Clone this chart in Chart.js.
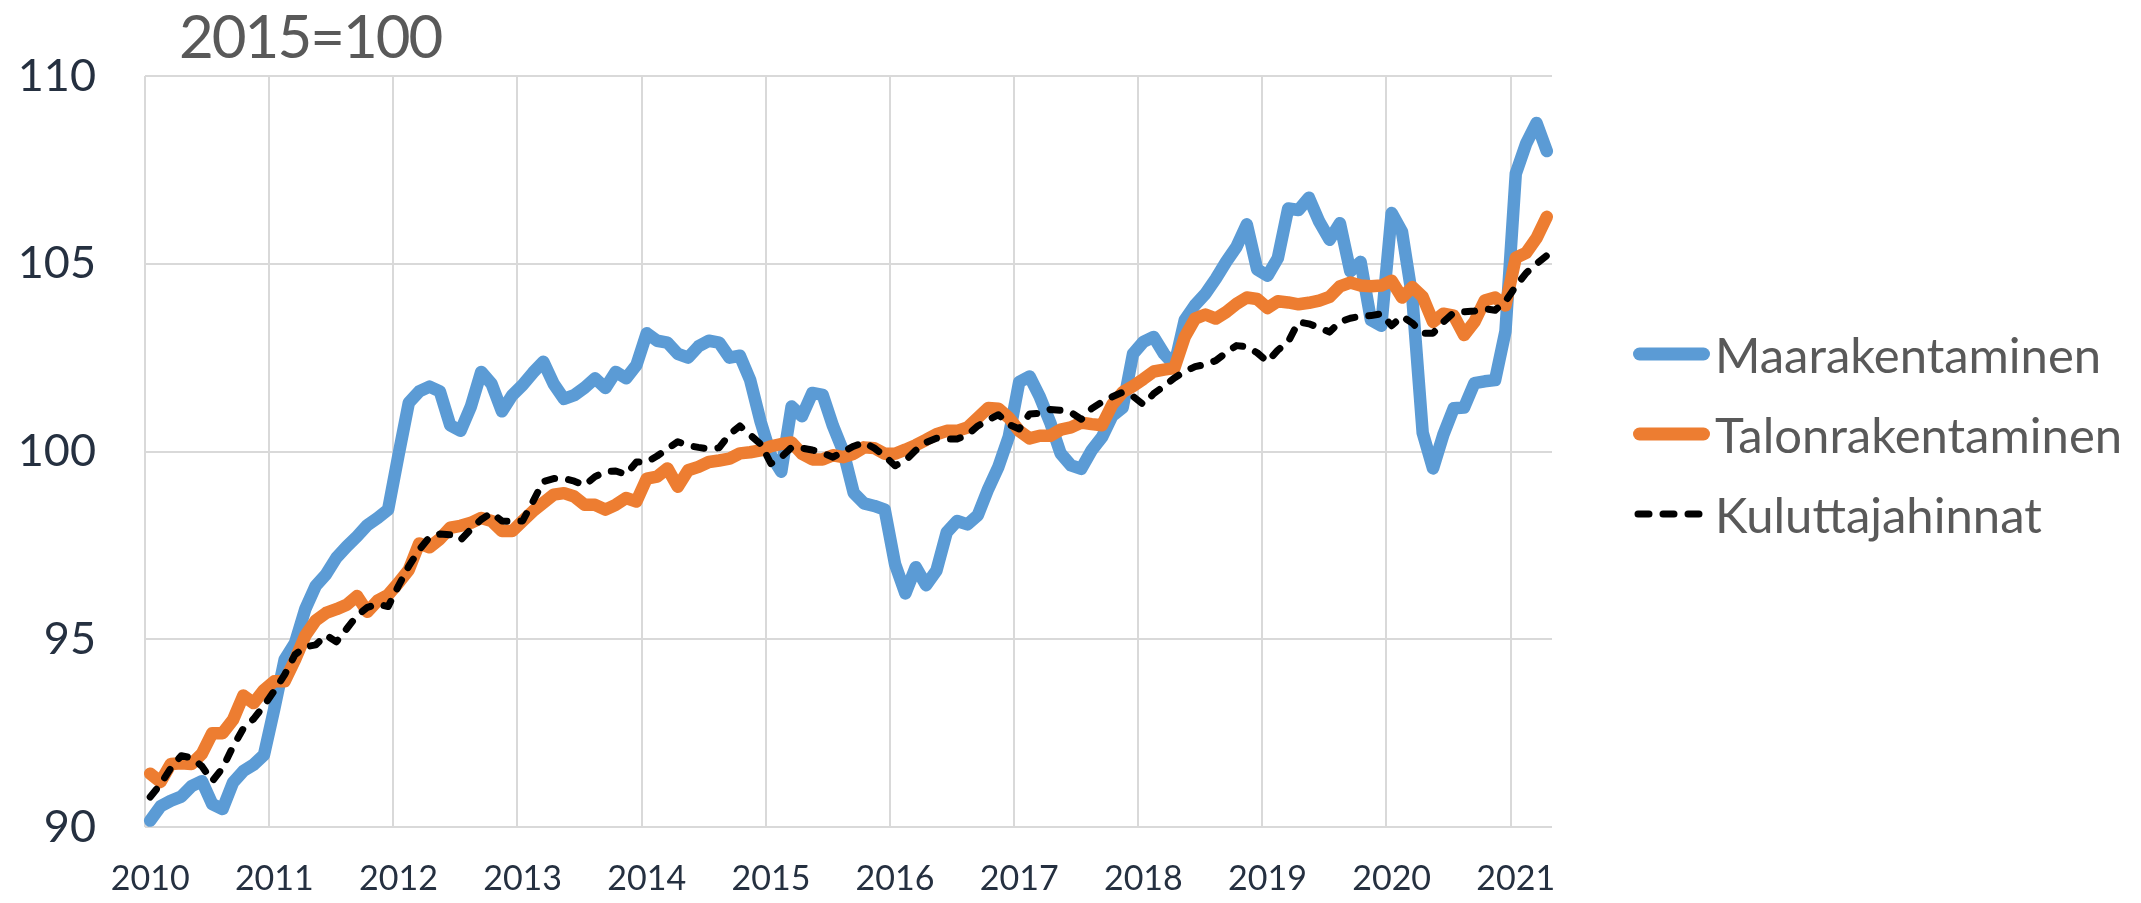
<!DOCTYPE html>
<html>
<head>
<meta charset="utf-8">
<script src="https://cdn.jsdelivr.net/npm/chart.js@4.4.1/dist/chart.umd.min.js"></script>
<style>
    html, body { margin: 0; padding: 0; background: #fff; }
    #wrap { position: relative; width: 2141px; height: 903px; overflow: hidden; }
    #title {
        position: absolute; left: 179px; top: 5px;
        font: 60px Lato, sans-serif; line-height: 60px; letter-spacing: -2px;
        color: #595959; white-space: nowrap;
    }
    .item {
        position: absolute; left: 1633px; height: 50px;
        display: flex; align-items: center; white-space: nowrap;
        font: 49px Lato, sans-serif; line-height: 50px; color: #595959;
    }
    .item svg { margin-right: 5px; flex: none; }
</style>
</head>
<body>
<div id="wrap">
    <canvas id="indeksiChart" width="2141" height="903"></canvas>
    <div id="title">2015=100</div>
    <div id="legend"></div>
</div>
<script>
// Vuodet (x-akselin nimiöt), viimeiseltä vuodelta vain tammi-huhtikuu
const years = ['2010', '2011', '2012', '2013', '2014', '2015', '2016', '2017', '2018', '2019', '2020', '2021'];
const monthsPerYear = [12, 12, 12, 12, 12, 12, 12, 12, 12, 12, 12, 4];
const yTicks = [90, 95, 100, 105, 110];

// Kuukausittaiset indeksit, 2015=100
const maarakentaminen = [
    90.17, 90.55, 90.7, 90.81, 91.09, 91.22, 90.61, 90.48, 91.18, 91.49, 91.66, 91.92,
    93.15, 94.46, 94.9, 95.81, 96.42, 96.73, 97.17, 97.47, 97.74, 98.04, 98.23, 98.45,
    99.9, 101.3, 101.6, 101.73, 101.6, 100.7, 100.55, 101.2, 102.12, 101.8, 101.07, 101.5,
    101.77, 102.1, 102.39, 101.8, 101.4, 101.5, 101.7, 101.95, 101.69, 102.12, 101.95, 102.3,
    103.15, 102.95, 102.9, 102.6, 102.5, 102.8, 102.95, 102.9, 102.5, 102.55, 101.9, 100.8,
    99.9, 99.46, 101.2, 100.94, 101.56, 101.51, 100.68, 100.0, 98.9, 98.62, 98.55, 98.45,
    97.0, 96.22, 96.92, 96.44, 96.83, 97.85, 98.15, 98.06, 98.3, 99.0, 99.6, 100.4,
    101.85, 102.0, 101.45, 100.77, 99.95, 99.63, 99.54, 100.03, 100.38, 100.95, 101.17, 102.6,
    102.92, 103.05, 102.6, 102.3, 103.5, 103.9, 104.2, 104.6, 105.05, 105.45, 106.05, 104.85,
    104.68, 105.15, 106.47, 106.43, 106.76, 106.12, 105.64, 106.08, 104.8, 105.05, 103.5, 103.35,
    106.35, 105.85, 104.1, 100.5, 99.55, 100.45, 101.15, 101.17, 101.82, 101.87, 101.9, 103.2,
    107.4, 108.2, 108.75, 108.0
];
const talonrakentaminen = [
    91.42, 91.2, 91.68, 91.7, 91.68, 91.95, 92.5, 92.5, 92.85, 93.5, 93.3, 93.65,
    93.88, 93.88, 94.45, 95.1, 95.5, 95.7, 95.8, 95.92, 96.15, 95.73, 96.03, 96.18,
    96.5, 96.85, 97.55, 97.45, 97.67, 97.97, 98.02, 98.1, 98.23, 98.15, 97.88, 97.88,
    98.15, 98.41, 98.63, 98.85, 98.89, 98.8, 98.58, 98.58, 98.45, 98.58, 98.76, 98.67,
    99.28, 99.33, 99.55, 99.06, 99.5, 99.59, 99.72, 99.76, 99.81, 99.95, 99.98, 100.03,
    100.14, 100.2, 100.24, 99.94, 99.79, 99.79, 99.9, 99.85, 99.94, 100.11, 100.09, 99.94,
    99.94, 100.05, 100.17, 100.31, 100.46, 100.55, 100.55, 100.64, 100.9, 101.16, 101.14, 100.9,
    100.55, 100.35, 100.42, 100.42, 100.58, 100.64, 100.77, 100.73, 100.7, 101.25, 101.58, 101.74,
    101.93, 102.13, 102.18, 102.22, 103.05, 103.54, 103.65, 103.54, 103.71, 103.93, 104.1, 104.06,
    103.82, 104.0, 103.97, 103.92, 103.96, 104.02, 104.12, 104.4, 104.5, 104.42, 104.4, 104.42,
    104.55, 104.1, 104.38, 104.12, 103.45, 103.67, 103.62, 103.1, 103.45, 104.02, 104.1, 103.89,
    105.16, 105.29, 105.68, 106.25
];
const kuluttajahinnat = [
    90.8, 91.14, 91.57, 91.9, 91.84, 91.62, 91.22, 91.57, 92.14, 92.62, 92.88, 93.23,
    93.63, 94.06, 94.59, 94.8, 94.85, 95.11, 94.93, 95.28, 95.63, 95.85, 95.94, 95.87,
    96.42, 96.95, 97.38, 97.72, 97.8, 97.78, 97.64, 97.93, 98.19, 98.37, 98.15, 98.13,
    98.15, 98.67, 99.2, 99.28, 99.28, 99.21, 99.1, 99.33, 99.46, 99.48, 99.39, 99.72,
    99.72, 99.88, 100.07, 100.26, 100.16, 100.11, 100.07, 100.1, 100.46, 100.68, 100.44, 100.2,
    99.68, 99.85, 100.11, 100.09, 100.04, 99.96, 99.85, 100.0, 100.14, 100.24, 100.09, 99.88,
    99.62, 99.76, 100.03, 100.24, 100.35, 100.33, 100.33, 100.44, 100.68, 100.84, 100.98, 100.72,
    100.6, 101.0, 101.02, 101.12, 101.1, 101.04, 100.86, 101.14, 101.32, 101.46, 101.58, 101.47,
    101.25, 101.54, 101.74, 101.96, 102.13, 102.26, 102.32, 102.42, 102.63, 102.82, 102.79, 102.63,
    102.39, 102.7, 102.92, 103.45, 103.4, 103.3, 103.18, 103.45, 103.55, 103.6, 103.62, 103.67,
    103.35, 103.6, 103.42, 103.15, 103.15, 103.45, 103.7, 103.72, 103.74, 103.8, 103.76, 104.0,
    104.4, 104.75, 105.0, 105.22
];

document.addEventListener('DOMContentLoaded', function () {
    // Kuukausikategoriat muotoa "2010-01"
    const months = [];
    years.forEach(function (year, k) {
        for (let m = 1; m <= monthsPerYear[k]; m++) {
            months.push(year + '-' + String(m).padStart(2, '0'));
        }
    });

    const gridColor = '#d9d9d9';
    const tickColor = '#253040';

    const ctx = document.getElementById('indeksiChart').getContext('2d');
    const chart = new Chart(ctx, {
        type: 'line',
        data: {
            labels: months,
            datasets: [
                {
                    label: 'Maarakentaminen',
                    data: maarakentaminen,
                    borderColor: '#5B9BD5',
                    borderWidth: 12.5,
                    order: 2
                },
                {
                    label: 'Talonrakentaminen',
                    data: talonrakentaminen,
                    borderColor: '#ED7D31',
                    borderWidth: 12.5,
                    order: 1
                },
                {
                    label: 'Kuluttajahinnat',
                    data: kuluttajahinnat,
                    borderColor: '#000000',
                    borderWidth: 7,
                    borderDash: [10, 14],
                    order: 0
                }
            ]
        },
        options: {
            responsive: false,
            animation: false,
            devicePixelRatio: 1,
            layout: {
                padding: { top: 72, right: 589, left: 0, bottom: 0 }
            },
            elements: {
                point: { radius: 0 },
                line: {
                    tension: 0,
                    fill: false,
                    borderCapStyle: 'round',
                    borderJoinStyle: 'round'
                }
            },
            plugins: {
                legend: { display: false },
                tooltip: { enabled: false }
            },
            scales: {
                x: {
                    type: 'category',
                    offset: true,
                    grid: {
                        offset: true,
                        lineWidth: 2,
                        drawTicks: false,
                        // vain vuodenvaihteen pystyviivat
                        color: function (c) {
                            return c.index % 12 === 0 ? gridColor : 'rgba(0,0,0,0)';
                        }
                    },
                    border: { display: false },
                    ticks: {
                        autoSkip: false,
                        maxRotation: 0,
                        padding: 32,
                        color: tickColor,
                        font: { family: 'Lato', size: 34 },
                        callback: function (value) {
                            const label = this.getLabelForValue(value);
                            return label.endsWith('-01') ? label.slice(0, 4) : '';
                        }
                    },
                    afterFit: function (scale) { scale.height = 70; }
                },
                y: {
                    min: 90,
                    max: 110,
                    afterBuildTicks: function (scale) {
                        scale.ticks = yTicks.map(function (v) { return { value: v }; });
                    },
                    grid: { color: gridColor, lineWidth: 2, drawTicks: false },
                    border: { display: false },
                    ticks: {
                        padding: 49,
                        color: tickColor,
                        font: { family: 'Lato', size: 45 }
                    },
                    afterFit: function (scale) { scale.width = 145; }
                }
            }
        }
    });

    // Selite oikealle
    const legendEl = document.getElementById('legend');
    const rowCenters = [354, 434, 514];
    chart.data.datasets.forEach(function (ds, i) {
        const item = document.createElement('div');
        item.className = 'item';
        item.style.top = (rowCenters[i] - 25) + 'px';
        let line;
        if (ds.borderDash) {
            line = '<line x1="5" y1="10" x2="70" y2="10" stroke="' + ds.borderColor +
                '" stroke-width="7" stroke-linecap="round" stroke-dasharray="11 14"/>';
        } else {
            line = '<line x1="6.5" y1="10" x2="70.5" y2="10" stroke="' + ds.borderColor +
                '" stroke-width="13" stroke-linecap="round"/>';
        }
        item.innerHTML = '<svg width="77" height="20">' + line + '</svg><span>' + ds.label + '</span>';
        legendEl.appendChild(item);
    });
});
</script>
</body>
</html>
